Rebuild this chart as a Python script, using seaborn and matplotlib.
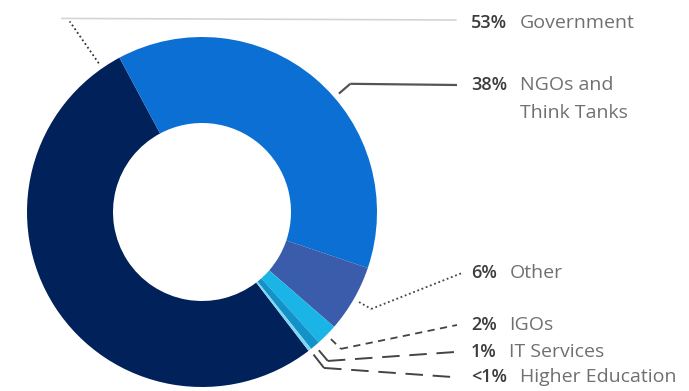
import numpy as np
import matplotlib.pyplot as plt
import seaborn as sns

# data
sectors = ["Government", "NGOs and\nThink Tanks", "Other", "IGOs", "IT Services", "Higher Education"]
shares = [52.6, 38.0, 6.2, 2.0, 0.9, 0.3]
pct_labels = ["53%", "38%", "6%", "2%", "1%", "<1%"]
colors = ["#00215a", "#0b6fd4", "#3a5caa", "#1ab4e6", "#1391c9", "#7fd6f2"]

# label layout (pixel space, y down)
label_y = [23, 85, 273, 325, 352, 377]
label_x = 471
line_end_x = [456, 457, 462, 457, 455, 452]
anchor_frac = [0.965, 0.565, 0.5, 0.5, 0.5, 0.5]
elbow_r = [232, 196, 195, 195, 195, 198]
styles = [
    dict(ls=(0, (1, 1.5)), color="#333333", lw=1.3),
    dict(ls="-", color="#555555", lw=1.6),
    dict(ls=(0, (1, 1.5)), color="#444444", lw=1.3),
    dict(ls=(0, (4, 3)), color="#444444", lw=1.3),
    dict(ls=(0, (9, 5)), color="#444444", lw=1.4),
    dict(ls=(0, (9, 5)), color="#444444", lw=1.4),
]

sns.set_theme(style="white")
plt.rcParams["font.family"] = ["Open Sans", "DejaVu Sans"]

W, H = 689, 391
cx, cy, R, ring = 202, 212, 175, 86

fig = plt.figure(figsize=(W / 100, H / 100), dpi=100)
ax = fig.add_axes([0, 0, 1, 1])

wedges, _ = ax.pie(shares, colors=colors, center=(cx, cy), radius=R,
                   startangle=52.5, counterclock=True,
                   wedgeprops=dict(width=ring, linewidth=0))
ax.set_xlim(0, W)
ax.set_ylim(H, 0)
ax.set_aspect("equal")
ax.axis("off")

for i, w in enumerate(wedges):
    ang = np.deg2rad(w.theta1 + anchor_frac[i] * (w.theta2 - w.theta1))
    ax_, ay_ = cx + 181 * np.cos(ang), cy + 181 * np.sin(ang)
    ex, ey = cx + elbow_r[i] * np.cos(ang), cy + elbow_r[i] * np.sin(ang)
    ax.plot([ax_, ex], [ay_, ey], solid_capstyle="butt", **styles[i])
    if i == 0:
        ax.plot([ex - 8, line_end_x[i]], [ey - 3, label_y[i] - 3], color="#d4d4d4", lw=1.2)
    else:
        ax.plot([ex, line_end_x[i]], [ey, label_y[i]], solid_capstyle="butt", **styles[i])

    t = ax.text(label_x, label_y[i], pct_labels[i], ha="left", va="center",
                fontsize=13, fontweight="semibold", color="#3c3c3c")
    ax.annotate(sectors[i], xy=(1, 1), xycoords=t, xytext=(9, 0),
                textcoords="offset points", ha="left", va="top",
                fontsize=14, color="#707070", linespacing=1.7)

fig.savefig("out.png", dpi=100)
